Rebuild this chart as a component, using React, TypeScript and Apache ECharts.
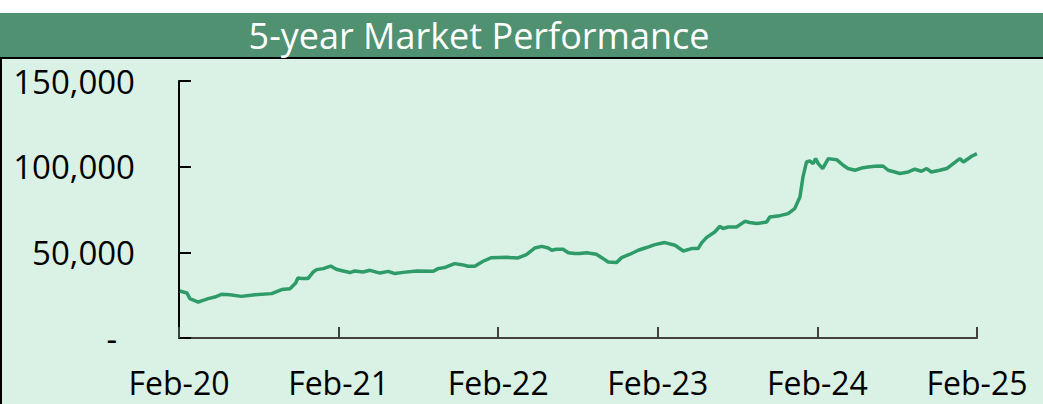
import React, { useEffect, useRef } from "react";
import * as echarts from "echarts";

const titleText = "5-year Market Performance";
const xTickLabels = ["Feb-20", "Feb-21", "Feb-22", "Feb-23", "Feb-24", "Feb-25"];
const yTicks = [0, 50000, 100000, 150000];

const dates = [
  "2020-02-03", "2020-02-19", "2020-02-26", "2020-03-16", "2020-03-27", "2020-04-08", "2020-04-23", "2020-05-08",
  "2020-05-27", "2020-06-23", "2020-07-24", "2020-08-31", "2020-09-23", "2020-10-12", "2020-10-25", "2020-10-30",
  "2020-11-08", "2020-11-22", "2020-12-04", "2020-12-12", "2020-12-27", "2021-01-13", "2021-01-26", "2021-02-11",
  "2021-02-26", "2021-03-09", "2021-03-28", "2021-04-13", "2021-05-06", "2021-05-25", "2021-06-09", "2021-06-28",
  "2021-07-29", "2021-09-05", "2021-09-16", "2021-10-01", "2021-10-09", "2021-10-24", "2021-11-09", "2021-11-24",
  "2021-12-09", "2021-12-28", "2022-01-16", "2022-02-20", "2022-03-18", "2022-04-06", "2022-04-25", "2022-05-11",
  "2022-05-26", "2022-06-03", "2022-06-14", "2022-06-29", "2022-07-11", "2022-07-26", "2022-08-06", "2022-08-22",
  "2022-09-13", "2022-09-29", "2022-10-10", "2022-10-29", "2022-11-10", "2022-11-29", "2022-12-18", "2023-01-06",
  "2023-01-25", "2023-02-17", "2023-03-12", "2023-03-31", "2023-04-19", "2023-05-04", "2023-05-12", "2023-05-23",
  "2023-06-11", "2023-06-23", "2023-06-30", "2023-07-12", "2023-07-31", "2023-08-19", "2023-08-30", "2023-09-15",
  "2023-10-08", "2023-10-15", "2023-11-07", "2023-11-26", "2023-12-11", "2023-12-23", "2023-12-30", "2024-01-07",
  "2024-01-15", "2024-01-22", "2024-01-28", "2024-02-03", "2024-02-13", "2024-02-26", "2024-03-16", "2024-03-31",
  "2024-04-11", "2024-04-27", "2024-05-12", "2024-05-27", "2024-06-11", "2024-06-30", "2024-07-12", "2024-07-27",
  "2024-08-08", "2024-08-27", "2024-09-11", "2024-09-26", "2024-10-08", "2024-10-19", "2024-11-07", "2024-11-23",
  "2024-12-08", "2024-12-23", "2024-12-31", "2025-01-19", "2025-01-31",
];

const values = [
  27400, 26300, 23000, 21000, 22000, 23000, 23900, 25500,
  25300, 24300, 25300, 25900, 28300, 28800, 32100, 35000,
  34700, 34700, 38500, 39900, 40500, 42000, 40100, 39100,
  38200, 39100, 38500, 39500, 37900, 38900, 37600, 38300,
  39100, 38900, 40500, 41100, 41900, 43400, 42800, 41900,
  41900, 44800, 46900, 47100, 46700, 48700, 52500, 53500,
  52500, 51200, 51800, 51800, 49800, 49300, 49300, 49800,
  48900, 46300, 44400, 44000, 46900, 48900, 51200, 52800,
  54500, 55700, 54100, 50800, 52200, 52200, 55500, 58600,
  61900, 65200, 63900, 64800, 64800, 68100, 67400, 66800,
  67700, 70600, 71400, 72600, 75500, 82300, 94000, 102700,
  103300, 101800, 104700, 101800, 98900, 104700, 104100, 100800,
  98900, 97900, 99200, 99800, 100200, 100400, 97900, 96900,
  96000, 96900, 98500, 97300, 98900, 96900, 97900, 98900,
  101800, 104700, 102700, 106100, 107600,
];

const START = Date.UTC(2020, 1, 1);
const YEAR_MS = 365.25 * 86400000;

export default function App() {
  const ref = useRef<HTMLDivElement>(null);

  useEffect(() => {
    if (!ref.current) return;
    const chart = echarts.init(ref.current, undefined, { renderer: "svg" });
    const seriesData = dates.map((d, i) => [(Date.parse(d) - START) / YEAR_MS, values[i]]);
    const font = "'Open Sans', sans-serif";
    chart.setOption({
      animation: false,
      backgroundColor: "#ffffff",
      graphic: [
        {
          type: "rect",
          z: -10,
          silent: true,
          shape: { x: 0, y: 13, width: 1043, height: 45 },
          style: { fill: "#4f9170" },
        },
        {
          type: "rect",
          z: -10,
          silent: true,
          shape: { x: 1, y: 58, width: 1100, height: 400 },
          style: { fill: "#daf2e6", stroke: "#000000", lineWidth: 2 },
        },
        {
          type: "text",
          z: 10,
          x: 479,
          y: 35,
          style: {
            text: titleText,
            fill: "#ffffff",
            font: `36px ${font}`,
            align: "center",
            verticalAlign: "middle",
          },
        },
      ],
      grid: { left: 179, right: 66, top: 81, bottom: 66, containLabel: false },
      xAxis: {
        type: "value",
        min: 0,
        max: 5,
        interval: 1,
        axisLine: { show: true, onZero: false, lineStyle: { color: "#404040", width: 2 } },
        axisTick: { show: true, inside: true, length: 11, lineStyle: { color: "#404040", width: 2 } },
        splitLine: { show: false },
        axisLabel: {
          margin: 32,
          color: "#000000",
          fontFamily: font,
          fontSize: 32,
          lineHeight: 24,
          formatter: (v: number) => xTickLabels[Math.round(v)] ?? "",
        },
      },
      yAxis: {
        type: "value",
        min: 0,
        max: 150000,
        interval: 50000,
        axisLine: { show: true, lineStyle: { color: "#000000", width: 2 } },
        axisTick: { show: true, inside: true, length: 12, lineStyle: { color: "#000000", width: 2 } },
        splitLine: { show: false },
        axisLabel: {
          margin: 44,
          color: "#000000",
          fontFamily: font,
          fontSize: 33,
          formatter: (v: number) =>
            v === yTicks[0] ? "{z|-}" : v.toLocaleString("en-US"),
          rich: {
            z: { fontFamily: font, fontSize: 33, color: "#000000", padding: [0, 18, 0, 0] },
          },
        },
      },
      series: [
        {
          type: "line",
          data: seriesData,
          showSymbol: false,
          symbol: "none",
          lineStyle: { color: "#2e9b68", width: 3.5 },
        },
      ],
    });
    return () => chart.dispose();
  }, []);

  return (
    <div
      ref={ref}
      style={{ position: "fixed", left: 0, top: 0, width: 1043, height: 404 }}
    />
  );
}
